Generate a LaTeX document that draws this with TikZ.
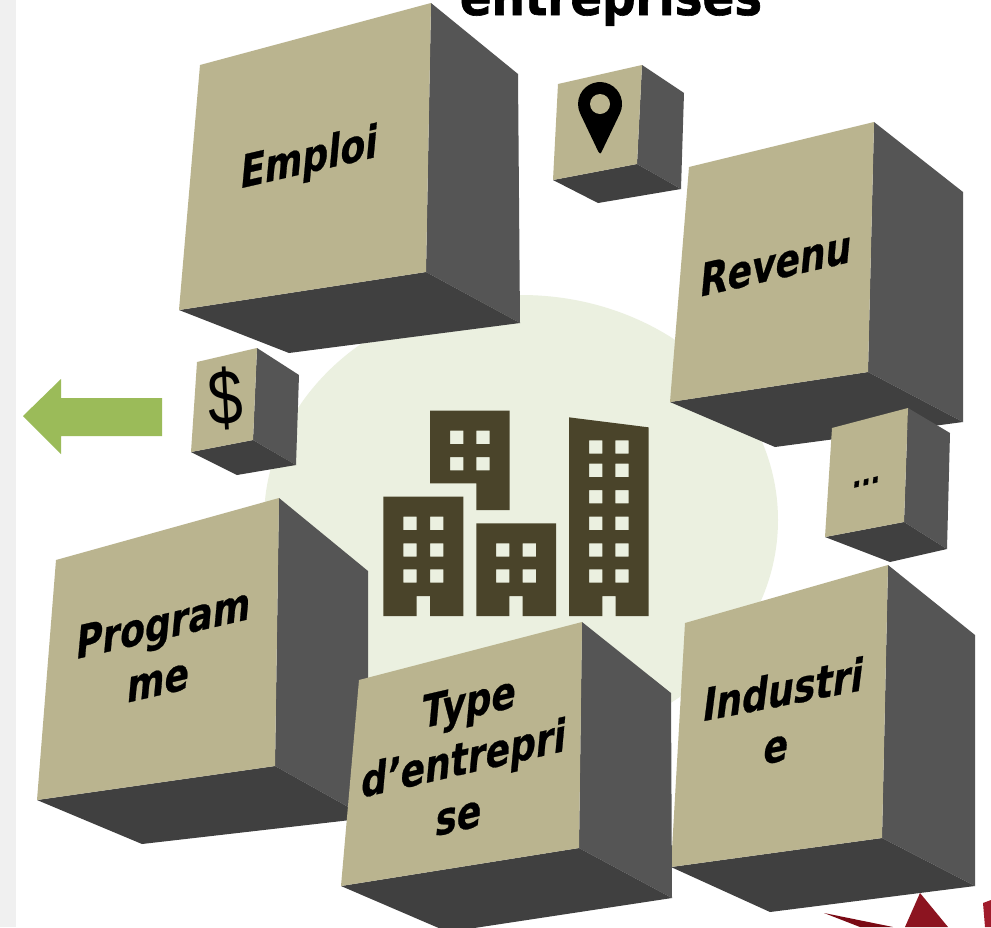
\documentclass[tikz,border=0pt]{standalone}
\usepackage{fontspec}
\newfontfamily\lab[FakeStretch=0.84,BoldFeatures={FakeBold=0.6}]{DejaVu Sans}
\newfontfamily\headfont[FakeStretch=0.9,BoldFeatures={FakeBold=1.2}]{DejaVu Sans}
\newfontfamily\dollarfont{Liberation Sans}
\definecolor{tan}{HTML}{BAB48F}
\definecolor{sideg}{HTML}{555555}
\definecolor{underg}{HTML}{404040}
\definecolor{halo}{HTML}{EBF0E0}
\definecolor{bldg}{HTML}{4A442A}
\definecolor{arrowg}{HTML}{9BBB59}
\definecolor{strip}{HTML}{F0F0F0}
\definecolor{reda}{HTML}{7A0A14}
\definecolor{redb}{HTML}{8C1420}
\definecolor{redc}{HTML}{A01C2C}
\tikzset{
  cubefront/.style={fill=tan},
  cubeside/.style={fill=sideg},
  cubeunder/.style={fill=underg},
  cubelabel/.style={font=\lab\bfseries\fontsize{#1}{54}\selectfont,align=center,inner sep=0pt,text=black},
  cubelabel/.default=44,
  leaning/.style={rotate=#1,xslant=0.33,transform shape},
  building/.style={fill=bldg,even odd rule},
}
% front TL, TR, BR, BL, side TR, side BR, under bottom
\newcommand{\cubeshape}[7]{%
  \path[cubeside] #2 -- #5 -- #6 -- #3 -- cycle;
  \path[cubeunder] #4 -- #3 -- #6 -- #7 -- cycle;
  \path[cubefront] #1 -- #2 -- #3 -- #4 -- cycle;
}
\newcommand{\win}[2]{(#1,#2) rectangle ++(40,40)}
\begin{document}
\begin{tikzpicture}[x=1pt,y=-1pt]
\useasboundingbox (0,0) rectangle (991,927);
\clip (0,0) rectangle (991,927);
\fill[white] (0,0) rectangle (991,927);
\fill[strip] (0,0) rectangle (16,927);
\node[font=\headfont\bfseries\fontsize{52}{60}\selectfont,anchor=base,inner sep=0pt] (title) at (611,15) {entreprises};
% halo
\fill[halo] (521,520) ellipse [x radius=257,y radius=225];
% red star fragment
\fill[reda] (824,913) -- (893,927) -- (860,927) -- cycle;
\fill[redb] (920,893) -- (948,927) -- (905,927) -- cycle;
\fill[redc] (983,903) -- (991,900) -- (991,927) -- (985,927) -- cycle;
% arrow
\fill[arrowg] (23,416) -- (61,379) -- (61,398) -- (162,398) -- (162,436) -- (61,436) -- (61,454) -- cycle;
% buildings
\begin{scope}[shift={(380,400)},x=0.33333pt,y=-0.33333pt]
\fill[building] (10,290) -- (250,290) -- (250,648) -- (150,648) -- (150,588) -- (110,588) -- (110,648) -- (10,648) -- cycle
  \win{70}{350} \win{150}{350} \win{70}{430} \win{150}{430} \win{70}{508} \win{150}{508};
\fill[building] (150,32) -- (389,32) -- (389,330) -- (289,330) -- (289,250) -- (150,250) -- cycle
  \win{210}{92} \win{289}{92} \win{210}{171} \win{289}{171};
\fill[building] (289,370) -- (528,370) -- (528,648) -- (428,648) -- (428,588) -- (388,588) -- (388,648) -- (289,648) -- cycle
  \win{348}{430} \win{428}{430} \win{348}{508} \win{428}{508};
\fill[building] (567,52) -- (806,82) -- (806,648) -- (707,648) -- (707,588) -- (667,588) -- (667,648) -- (567,648) -- cycle
  \win{627}{121} \win{706}{121} \win{627}{191} \win{706}{191} \win{627}{270} \win{706}{270}
  \win{627}{350} \win{706}{350} \win{627}{430} \win{706}{430} \win{627}{508} \win{706}{508};
\end{scope}
% cubes
\cubeshape{(200,65)}{(431,3)}{(426,272)}{(179,310)}{(518,74)}{(520,323)}{(289,353)}
\cubeshape{(558,84)}{(642,65)}{(637,164)}{(553,180)}{(684,93)}{(681,189)}{(598,203)}
\cubeshape{(689,167)}{(874,122)}{(868,372)}{(670,402)}{(963,192)}{(963,422)}{(775,447)}
\cubeshape{(832,428)}{(908,408)}{(904,522)}{(825,537)}{(950,433)}{(947,549)}{(890,562)}
\cubeshape{(197,362)}{(257,348)}{(253,440)}{(191,452)}{(299,375)}{(296,465)}{(237,475)}
\cubeshape{(56,560)}{(279,498)}{(275,766)}{(37,800)}{(368,571)}{(368,818)}{(142,844)}
\cubeshape{(685,623)}{(888,565)}{(882,838)}{(671,867)}{(975,635)}{(975,886)}{(770,912)}
\cubeshape{(359,680)}{(582,622)}{(579,848)}{(341,886)}{(671,693)}{(672,898)}{(448,932)}
% pin
\path[fill=black] (619.8,113.7) arc [start angle=26,end angle=-206,radius=22] -- (598.5,152) arc [start angle=180,end angle=0,radius=1.5] -- cycle;
\fill[tan] (600,104) circle [radius=10];
% labels
\node[cubelabel,leaning=13] (emploi) at (309,160) {Emploi};
\node[cubelabel,leaning=13] (revenu) at (776,263) {Revenu};
\node[cubelabel=30,leaning=13] (dots) at (866,482) {...};
\node[cubelabel,leaning=13] (programme) at (161,651) {Program\\me};
\node[cubelabel,leaning=13] (typeent) at (464,758) {Type\\d’entrepri\\se};
\node[cubelabel,leaning=11] (industrie) at (780,717) {Industri\\e};
\node[font=\dollarfont\fontsize{78}{78}\selectfont,rotate=3,xscale=0.8,transform shape,inner sep=0pt] (dollar) at (225,398) {\$};
\end{tikzpicture}
\end{document}
